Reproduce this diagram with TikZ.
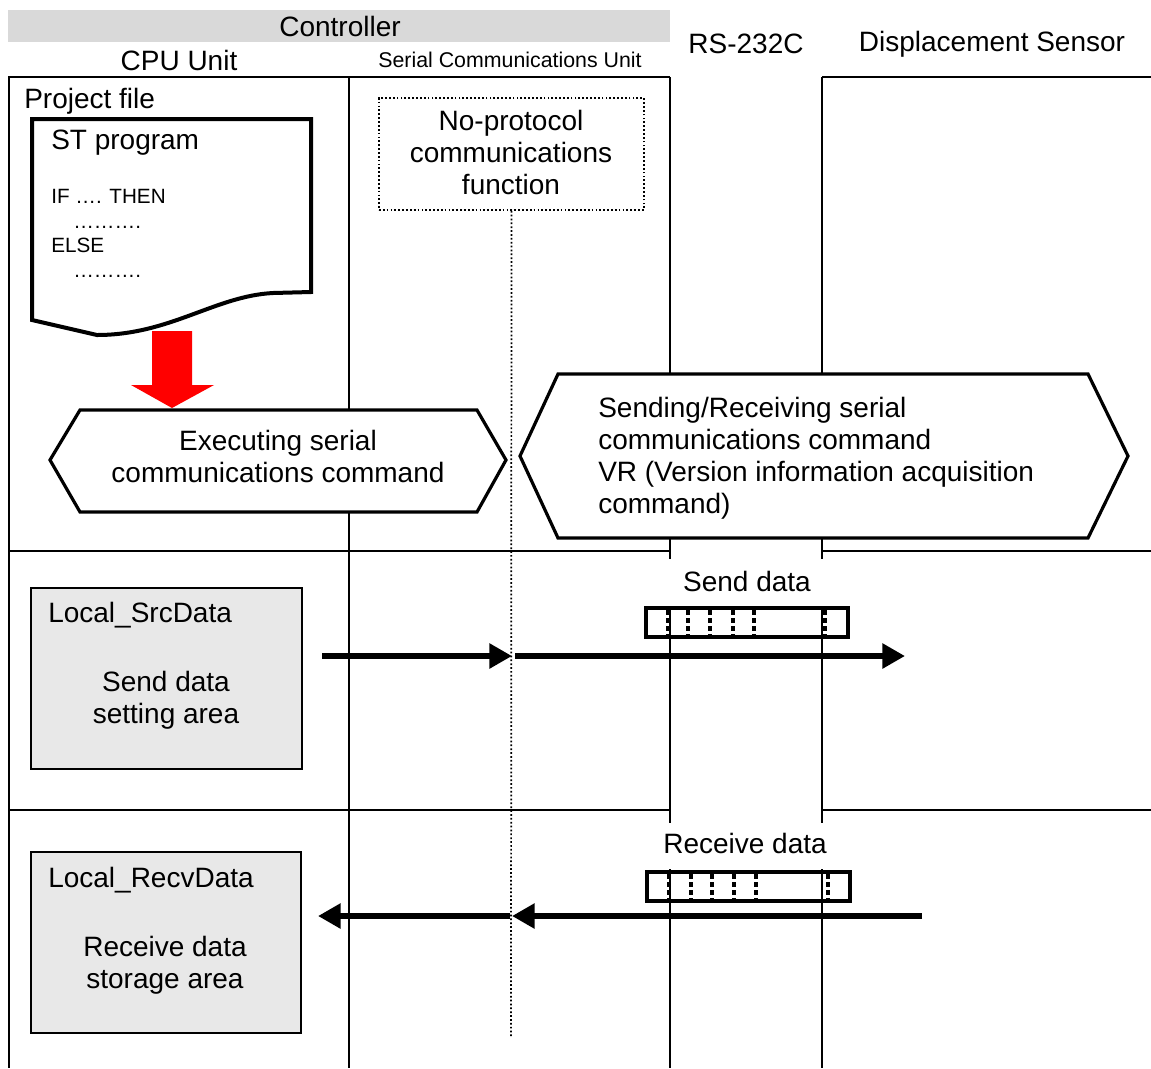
\documentclass[tikz,border=0pt]{standalone}
\usepackage{fontspec}
\setmainfont{Liberation Sans}
\usetikzlibrary{arrows.meta,fit}
\definecolor{barGray}{HTML}{D9D9D9}
\definecolor{boxGray}{HTML}{E8E8E8}
\begin{document}
\begin{tikzpicture}[x=0.75pt,y=-0.75pt,
  frame/.style={line width=1.5pt},
  hexline/.style={line width=2.4pt, fill=white, line join=miter},
  txt/.style={inner sep=0pt, font=\fontsize{21}{24}\selectfont},
  smalltxt/.style={inner sep=0pt, font=\fontsize{16}{19}\selectfont},
  codetxt/.style={inner sep=0pt, font=\fontsize{15.5}{18}\selectfont},
  dotline/.style={line width=1.3pt, dash pattern=on 1.3pt off 1.6pt},
  framebox/.style={draw, line width=2.3pt, inner sep=0pt},
  tick/.style={line width=2.6pt, dash pattern=on 3.4pt off 2.6pt},
  graybox/.style={draw, fill=boxGray, line width=1.6pt, inner sep=0pt},
  bigarrow/.style={line width=5.2pt, -{Triangle[length=17pt,width=18pt]}},
  redarrow/.style={fill=red, draw=none}]
\useasboundingbox (0,0) rectangle (1151,1068);

% header
\fill[barGray] (8,10) rectangle (670,42);
\node[txt] (ctrl) at (340,26) {Controller};
\node[txt] (cpu) at (179,60) {CPU Unit};
\node[smalltxt] (scu) at (510,60) {Serial Communications Unit};
\node[txt] (rs) at (746,44) {RS-232C};
\node[txt] (ds) at (992,44) {Displacement Sensor};

% frame lines
\draw[frame] (8,77) -- (670,77);
\draw[frame] (822,77) -- (1151,77);
\draw[frame] (9,77) -- (9,1068);
\draw[frame] (349,77) -- (349,1068);
\foreach \xx in {670,822} {
  \draw[frame] (\xx,77) -- (\xx,559);
  \draw[frame] (\xx,606) -- (\xx,823);
  \draw[frame] (\xx,869) -- (\xx,1068);
}
\draw[frame] (8,551) -- (670,551);
\draw[frame] (822,551) -- (1151,551);
\draw[frame] (8,810) -- (670,810);
\draw[frame] (822,810) -- (1151,810);

% project file
\node[txt, anchor=west] (pf) at (24,101) {Project file};
\draw[line width=3pt, line join=miter, fill=white]
  (32,119) -- (311,119) -- (311,292) -- (273,293)
  .. controls (215,296) and (170,335) .. (97,335)
  -- (32,320) -- cycle;
\node[txt, anchor=west] (st) at (51,143) {ST program};
\node[codetxt, anchor=base west] (c1) at (51,203) {IF …. THEN};
\node[codetxt, anchor=base west] (c2) at (73,228) {……….};
\node[codetxt, anchor=base west] (c3) at (51,252) {ELSE};
\node[codetxt, anchor=base west] (c4) at (73,277) {……….};

% red arrow
\fill[redarrow] (152,331) -- (192,331) -- (192,385) -- (214,385) -- (172,408) -- (131,385) -- (152,385) -- cycle;

% no-protocol box and dotted line
\node[fit={(379,98)(644,210)}, inner sep=0pt, draw, dotline] (np) {};
\node[txt, align=center] (nptext) at (511,152) {No-protocol\\communications\\function};
\coordinate (dlend) at (511,1036);
\draw[dotline] (np.south) -- (dlend);

% hexagons
\draw[hexline] (50,460) -- (80,410) -- (477,410) -- (506,460) -- (477,512) -- (80,512) -- cycle;
\node[txt, align=center] (hex1) at (278,456) {Executing serial\\communications command};
\draw[hexline] (520,456) -- (558,374) -- (1088,374) -- (1128,456) -- (1088,538) -- (558,538) -- cycle;
\node[txt, align=left, anchor=west] (hex2) at (598,458) {Sending/Receiving serial\\communications command\\VR (Version information acquisition\\command)};

% row 2
\node[graybox, fit={(31,588)(302,769)}] (src) {};
\node[txt, anchor=west] (srcname) at (48,615) {Local\_SrcData};
\node[txt, align=center] (srctext) at (166,700) {Send data\\setting area};
\node[txt] (sendlbl) at (747,581) {Send data};
\node[framebox, fit={(646,608)(848,637)}] (sendframe) {};
\foreach \xx in {668,688,710,733,754,825} \draw[tick] (\xx,610) -- (\xx,636);
\coordinate (a1s) at (322,656);
\coordinate (a1e) at (512,656);
\coordinate (a2s) at (515,656);
\coordinate (a2e) at (905,656);
\draw[bigarrow] (a1s) -- (a1e);
\draw[bigarrow] (a2s) -- (a2e);

% row 3
\node[graybox, fit={(31,852)(301,1033)}] (recv) {};
\node[txt, anchor=west] (recvname) at (48,880) {Local\_RecvData};
\node[txt, align=center] (recvtext) at (165,965) {Receive data\\storage area};
\node[txt] (recvlbl) at (745,843) {Receive data};
\node[framebox, fit={(647,872)(850,901)}] (recvframe) {};
\foreach \xx in {669,691,712,734,756,828} \draw[tick] (\xx,874) -- (\xx,900);
\coordinate (b1s) at (922,916);
\coordinate (b1e) at (512,916);
\coordinate (b2s) at (510,916);
\coordinate (b2e) at (318,916);
\draw[bigarrow] (b1s) -- (b1e);
\draw[bigarrow] (b2s) -- (b2e);
\end{tikzpicture}
\end{document}
